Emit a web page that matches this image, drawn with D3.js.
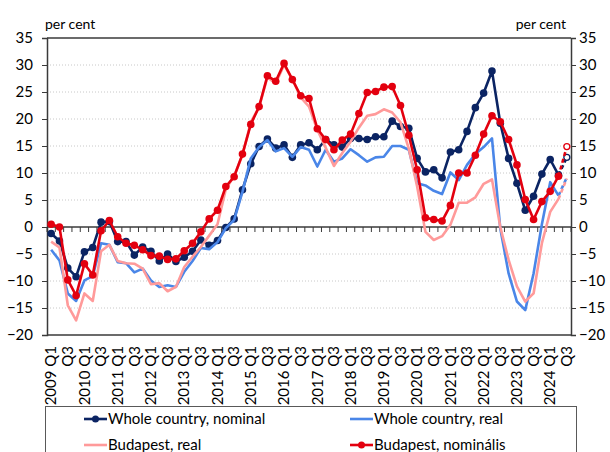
<!DOCTYPE html>
<html>
<head>
<meta charset="utf-8">
<script src="https://cdn.jsdelivr.net/npm/d3@7"></script>
<style>
  body { margin: 0; background: #fff; }
  svg { display: block; font-family: Lato, "Open Sans", sans-serif; }
</style>
</head>
<body>
<div id="chart"></div>
<script>
// quarters 2009 Q1 .. 2024 Q3, last one is preliminary (dashed)
var years = [2009, 2010, 2011, 2012, 2013, 2014, 2015, 2016, 2017, 2018, 2019, 2020, 2021, 2022, 2023, 2024];

var wholeNominal = [-1.2, -2.6, -7.6, -9.2, -4.6, -3.8, 0.9, 1.0, -2.7, -2.7, -5.2, -3.7, -4.5, -6.3, -5.0, -6.4,
  -5.6, -4.5, -2.4, -3.4, -2.5, -0.1, 1.5, 6.9, 11.7, 14.9, 16.3, 14.6, 15.2, 12.9, 15.2, 15.6,
  14.3, 16.2, 15.2, 14.8, 16.4, 16.4, 16.2, 16.7, 16.7, 19.6, 18.6, 18.3, 12.7, 10.2, 10.6, 9.1,
  13.9, 14.3, 17.7, 22.1, 24.8, 28.9, 19.2, 12.7, 8.1, 3.1, 5.7, 9.8, 12.5, 9.6, 12.9];

var wholeReal = [-4.2, -6.2, -12.3, -13.7, -9.9, -9.1, -3.0, -3.3, -6.5, -6.7, -8.4, -7.7, -9.9, -11.1, -10.8, -11.1,
  -8.3, -6.3, -3.9, -4.1, -2.8, -0.2, 1.3, 6.5, 12.7, 14.8, 16.1, 14.0, 14.6, 13.0, 14.8, 14.3,
  11.2, 14.3, 12.1, 12.7, 14.4, 13.3, 12.1, 12.9, 13.0, 15.0, 15.0, 14.3, 8.1, 7.7, 6.7, 6.1,
  10.1, 8.7, 11.5, 13.5, 14.8, 16.4, -0.3, -8.6, -13.8, -15.4, -8.6, 0.5, 8.3, 5.8, 9.2];

var budapestReal = [-2.7, -3.8, -14.5, -17.3, -12.3, -13.7, -4.5, -3.3, -6.3, -6.7, -6.8, -7.7, -10.6, -10.4, -11.9, -11.1,
  -7.4, -5.5, -3.7, -1.6, 0.5, 7.0, 9.5, 13.3, 19.4, 22.2, 27.7, 26.6, 30.0, 27.4, 24.0, 22.3,
  18.0, 14.7, 11.3, 13.7, 15.8, 18.4, 20.6, 20.9, 21.8, 21.2, 19.4, 14.5, 7.5, -0.9, -2.4, -1.7,
  0.4, 4.5, 4.5, 5.5, 8.0, 8.8, 0.0, -6.1, -11.0, -13.8, -12.3, -3.0, 2.8, 5.2, 9.0];

var budapestNominal = [0.5, 0.0, -9.8, -12.7, -6.8, -8.9, -0.7, 1.2, -1.8, -3.0, -3.4, -4.2, -5.3, -5.4, -6.0, -5.9,
  -4.4, -3.0, -0.9, 1.5, 3.1, 7.5, 9.3, 13.5, 19.0, 22.3, 28.0, 27.0, 30.3, 27.3, 24.3, 23.8,
  18.2, 16.2, 14.3, 16.1, 17.2, 21.0, 24.9, 25.1, 25.9, 26.0, 22.5, 17.0, 10.6, 1.7, 1.4, 1.1,
  4.0, 10.0, 10.0, 13.3, 17.2, 20.6, 19.5, 16.2, 11.5, 5.1, 1.4, 4.7, 6.6, 9.4, 14.9];

var yTicks = [-20, -15, -10, -5, 0, 5, 10, 15, 20, 25, 30, 35];

var quarters = [];
years.forEach(function (yr) {
  [1, 2, 3, 4].forEach(function (q) {
    if (quarters.length < wholeNominal.length) quarters.push(yr + " Q" + q);
  });
});

var series = [
  { name: "Whole country, nominal", values: wholeNominal, color: "#0b2463", markers: true },
  { name: "Whole country, real", values: wholeReal, color: "#4a86e8", markers: false },
  { name: "Budapest, real", values: budapestReal, color: "#ff9a9a", markers: false },
  { name: "Budapest, nominális", values: budapestNominal, color: "#e3000f", markers: true }
];

var svgWidth = 610, svgHeight = 452;
var plot = { left: 47, right: 571, top: 38, bottom: 335 };

var svg = d3.select("#chart").append("svg")
  .attr("width", svgWidth)
  .attr("height", svgHeight);

var x = d3.scaleBand().domain(quarters).range([plot.left, plot.right]).padding(0);
var y = d3.scaleLinear().domain([-20, 35]).range([plot.bottom, plot.top]);
var xc = function (i) { return x(quarters[i]) + x.bandwidth() / 2; };

// dotted grid
svg.append("g").selectAll("line")
  .data(yTicks.filter(function (t) { return t !== 0 && t !== -20 && t !== 35; }))
  .enter().append("line")
  .attr("x1", plot.left).attr("x2", plot.right)
  .attr("y1", function (d) { return y(d); })
  .attr("y2", function (d) { return y(d); })
  .attr("stroke", "#c8c8c8")
  .attr("stroke-width", 1)
  .attr("stroke-dasharray", "1,2");

// frame lines: top, bottom, zero
[35, -20, 0].forEach(function (v) {
  svg.append("line")
    .attr("x1", plot.left).attr("x2", plot.right)
    .attr("y1", y(v)).attr("y2", y(v))
    .attr("stroke", "#3a3a3a").attr("stroke-width", 1.5);
});

// category ticks hanging under the zero line
var boundaries = d3.range(quarters.length + 1).map(function (k) { return plot.left + k * x.bandwidth(); });
svg.append("g").selectAll("line").data(boundaries).enter().append("line")
  .attr("x1", function (d) { return d; }).attr("x2", function (d) { return d; })
  .attr("y1", y(0)).attr("y2", y(0) + 5)
  .attr("stroke", "#3a3a3a").attr("stroke-width", 1);

// y axes
var axisL = svg.append("g").attr("transform", "translate(" + plot.left + ",0)")
  .call(d3.axisLeft(y).tickValues(yTicks).tickSize(5).tickPadding(9).tickFormat(d3.format("d")));
var axisR = svg.append("g").attr("transform", "translate(" + plot.right + ",0)")
  .call(d3.axisRight(y).tickValues(yTicks).tickSize(5).tickPadding(3).tickFormat(d3.format("d")));
[axisL, axisR].forEach(function (g) {
  g.select(".domain").attr("stroke", "#3a3a3a").attr("stroke-width", 1.5);
  g.selectAll(".tick line").attr("stroke", "#3a3a3a");
  g.selectAll("text").attr("font-size", 15).attr("fill", "#000")
    .style("font-family", "Lato, sans-serif");
});
axisR.selectAll("text").attr("text-anchor", "start");

// x labels: every second quarter, rotated
svg.append("g").selectAll("text")
  .data(quarters.filter(function (q, i) { return i % 2 === 0; }))
  .enter().append("text")
  .attr("transform", function (d) {
    return "translate(" + (x(d) + x.bandwidth() / 2) + ",346) rotate(-90)";
  })
  .attr("text-anchor", "end")
  .attr("dy", "0.35em")
  .attr("font-size", 15)
  .text(function (d) { return d.indexOf("Q1") > 0 ? d : "Q3"; });

// unit labels
svg.append("text").attr("x", 45).attr("y", 29).attr("font-size", 14).text("per cent");
svg.append("text").attr("x", 566).attr("y", 29).attr("font-size", 14)
  .attr("text-anchor", "end").text("per cent");

// series
var last = quarters.length - 1;
var line = d3.line()
  .x(function (d) { return xc(d.i); })
  .y(function (d) { return y(d.v); });

series.forEach(function (s) {
  var pts = s.values.map(function (v, i) { return { i: i, v: v }; });
  var g = svg.append("g");
  g.append("path")
    .attr("d", line(pts.slice(0, last)))
    .attr("fill", "none")
    .attr("stroke", s.color)
    .attr("stroke-width", 2.6)
    .attr("stroke-linejoin", "round");
  g.append("path")
    .attr("d", line(pts.slice(last - 1)))
    .attr("fill", "none")
    .attr("stroke", s.color)
    .attr("stroke-width", 2.6)
    .attr("stroke-dasharray", "4,3");
  if (s.markers) {
    g.selectAll("circle").data(pts).enter().append("circle")
      .attr("cx", function (d) { return xc(d.i); })
      .attr("cy", function (d) { return y(d.v); })
      .attr("r", function (d) { return d.i === last ? 3 : 3.8; })
      .attr("fill", function (d) { return d.i === last ? "#fff" : s.color; })
      .attr("stroke", s.color)
      .attr("stroke-width", function (d) { return d.i === last ? 1.3 : 0; });
  }
});

// legend
var legend = svg.append("g");
legend.append("rect")
  .attr("x", 45.5).attr("y", 406.5).attr("width", 531).attr("height", 70)
  .attr("fill", "#fff").attr("stroke", "#595959").attr("stroke-width", 1);
var legPos = [[84, 419], [350, 419], [84, 445], [350, 445]];
series.forEach(function (s, k) {
  var p = legPos[k];
  var item = legend.append("g").attr("transform", "translate(" + p[0] + "," + p[1] + ")");
  item.append("line").attr("x1", 0).attr("x2", 23).attr("y1", 0).attr("y2", 0)
    .attr("stroke", s.color).attr("stroke-width", 2.6);
  if (s.markers) {
    item.append("circle").attr("cx", 11.5).attr("cy", 0).attr("r", 3.5).attr("fill", s.color);
  }
  item.append("text").attr("x", 24).attr("y", 0).attr("dy", "0.35em")
    .attr("font-size", 15).text(s.name);
});
</script>
</body>
</html>
